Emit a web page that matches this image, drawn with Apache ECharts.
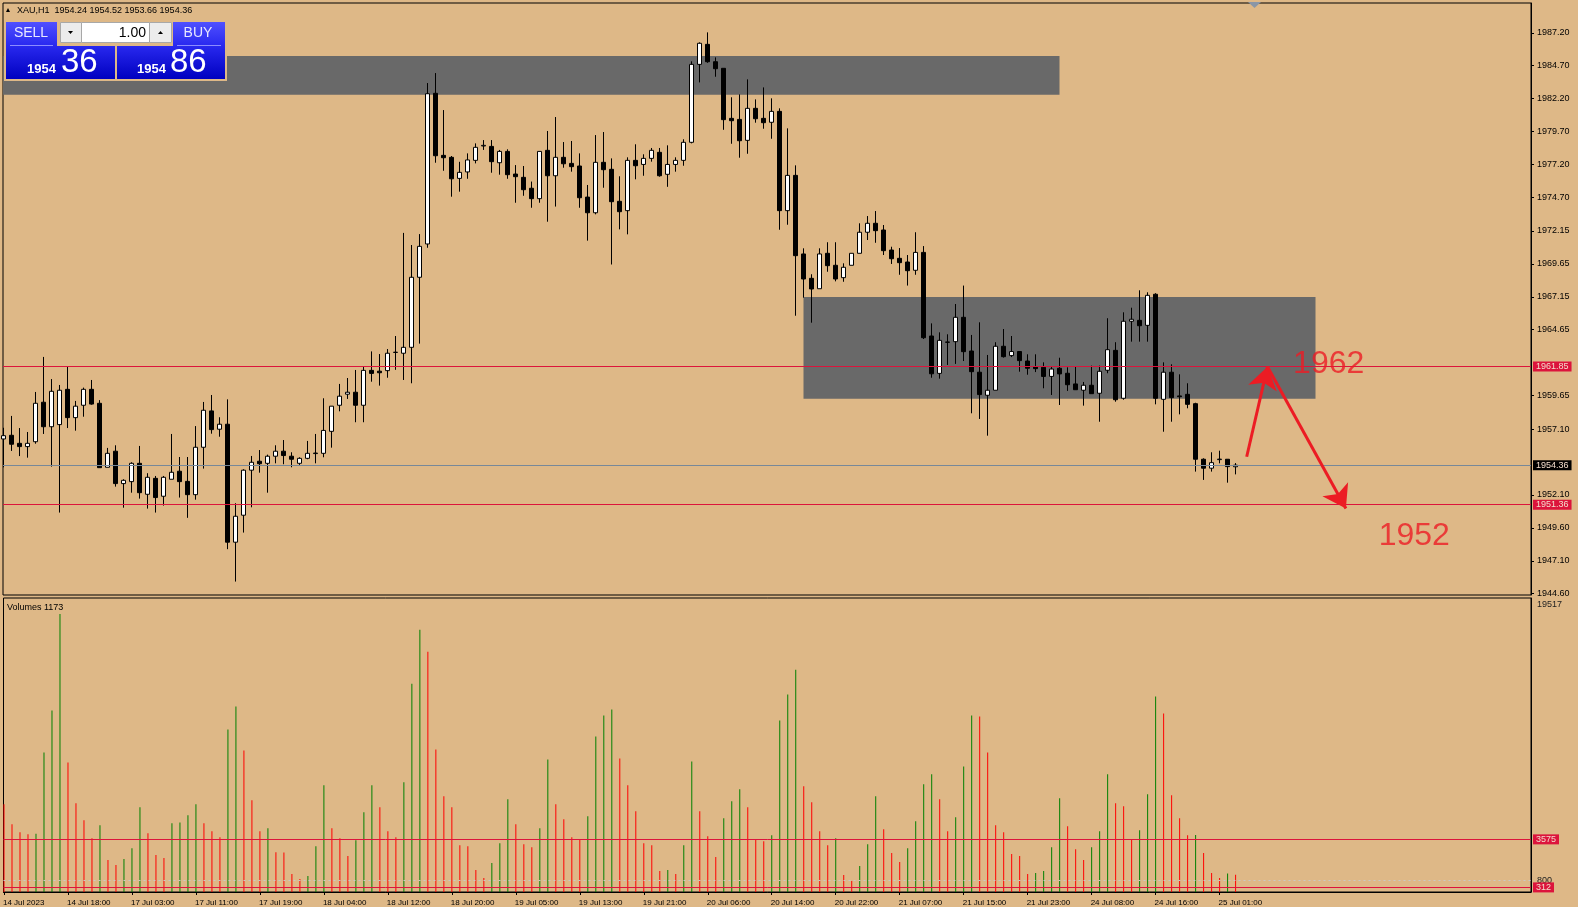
<!DOCTYPE html>
<html><head><meta charset="utf-8">
<script src="https://cdn.jsdelivr.net/npm/echarts@6/dist/echarts.min.js"></script>
<style>html,body{margin:0;padding:0;background:#DEB887;overflow:hidden}#c{width:1578px;height:907px}</style>
</head><body><div id="c"></div>
<script>
// ---------- DATA ----------
const symbolName = 'XAU,H1';
const opens = [1956.35,1956.63,1956.02,1955.77,1956.14,1959.14,1957.28,1957.44,1960.12,1957.97,
1958.91,1960.12,1959.06,1954.20,1955.42,1952.96,1953.11,1954.50,1952.15,1953.36,
1952.00,1953.29,1953.90,1953.13,1952.12,1955.72,1958.48,1957.09,1957.47,1948.51,
1950.56,1953.98,1954.66,1954.50,1955.04,1955.42,1955.04,1954.50,1954.88,1955.24,
1955.26,1956.93,1958.91,1959.75,1959.90,1958.91,1961.56,1961.50,1961.54,1962.92,
1962.86,1963.31,1968.63,1971.16,1982.60,1977.89,1977.74,1976.14,1976.63,1977.51,
1978.60,1978.57,1977.33,1978.19,1976.47,1976.22,1975.39,1974.60,1978.27,1976.34,
1977.74,1977.28,1977.08,1974.72,1973.53,1977.36,1976.83,1974.40,1973.69,1977.51,
1977.20,1977.66,1978.12,1976.45,1977.20,1977.51,1978.88,1984.80,1986.32,1985.00,
1984.50,1980.70,1980.62,1979.03,1981.46,1980.70,1980.40,1981.23,1973.69,1976.37,
1970.40,1968.55,1967.76,1970.45,1969.54,1968.60,1969.54,1970.45,1972.05,1972.73,
1972.22,1970.70,1970.07,1969.79,1969.16,1970.52,1964.17,1961.33,1963.68,1963.74,
1965.59,1963.03,1961.42,1959.67,1960.05,1963.39,1962.68,1962.99,1962.27,1961.84,
1961.79,1961.10,1961.72,1961.34,1960.53,1960.05,1960.43,1959.82,1961.57,1963.08,
1959.44,1965.29,1965.36,1964.98,1967.34,1959.36,1961.42,1959.62,1959.74,1959.03,
1954.81,1954.13,1954.78,1954.81,1954.24];
const highs = [1957.20,1958.10,1957.18,1956.88,1959.92,1962.58,1960.90,1960.45,1961.84,1959.24,
1960.25,1960.83,1959.30,1955.67,1955.87,1953.29,1954.58,1955.82,1953.75,1953.54,
1953.54,1956.73,1954.98,1954.98,1957.33,1959.16,1959.69,1958.00,1959.36,1951.47,
1954.05,1955.06,1955.51,1955.16,1955.87,1956.27,1955.34,1954.96,1956.20,1956.73,
1959.44,1958.84,1960.53,1960.98,1961.59,1961.84,1963.00,1962.80,1963.18,1964.17,
1972.00,1971.08,1971.91,1983.38,1984.14,1981.33,1977.84,1977.40,1978.04,1978.80,
1979.05,1979.05,1978.30,1978.35,1977.15,1977.08,1975.90,1978.19,1979.74,1980.80,
1978.90,1978.98,1978.04,1975.64,1979.43,1979.66,1977.66,1976.30,1977.74,1978.73,
1977.97,1978.45,1978.45,1978.65,1977.74,1979.11,1985.03,1986.47,1987.23,1985.33,
1984.50,1982.30,1982.52,1983.66,1982.14,1983.05,1982.22,1981.46,1979.94,1977.13,
1970.83,1968.86,1970.83,1971.29,1971.29,1969.69,1970.45,1972.73,1973.28,1973.66,
1972.60,1970.95,1970.85,1970.32,1972.05,1971.00,1965.13,1964.45,1964.30,1966.60,
1968.00,1964.25,1965.21,1962.73,1963.70,1964.70,1964.17,1962.99,1962.78,1962.78,
1962.17,1961.84,1962.52,1961.79,1961.84,1960.68,1961.92,1961.92,1965.52,1963.70,
1965.97,1966.32,1967.64,1967.49,1967.42,1962.17,1962.02,1961.26,1960.58,1959.10,
1954.88,1955.34,1955.46,1954.81,1954.52];
const lows = [1954.20,1955.44,1955.05,1954.93,1955.99,1956.73,1954.25,1950.76,1957.18,1956.98,
1958.04,1958.95,1954.17,1954.20,1952.73,1951.13,1952.27,1951.82,1951.06,1950.76,
1951.29,1953.29,1951.90,1950.36,1951.74,1954.10,1956.75,1956.52,1947.98,1945.52,
1949.24,1951.16,1953.79,1952.27,1954.50,1954.43,1954.20,1954.38,1954.81,1954.50,
1954.96,1955.69,1958.45,1959.39,1957.62,1957.62,1960.70,1960.40,1961.00,1961.60,
1960.83,1960.58,1963.59,1970.87,1977.33,1976.72,1974.75,1975.13,1976.11,1977.28,
1978.30,1976.57,1976.42,1976.11,1974.29,1974.82,1973.91,1974.29,1972.85,1974.00,
1976.95,1976.65,1973.91,1971.41,1973.41,1975.43,1969.60,1972.27,1971.89,1976.07,
1976.34,1977.41,1976.27,1975.50,1976.65,1977.10,1978.80,1983.43,1984.92,1983.86,
1979.83,1978.77,1977.71,1978.01,1980.37,1979.91,1979.15,1972.24,1972.62,1965.71,
1967.08,1965.18,1967.76,1969.05,1968.32,1968.29,1969.54,1970.45,1971.46,1971.25,
1970.32,1969.64,1968.82,1968.00,1968.82,1963.94,1961.00,1960.93,1961.97,1962.05,
1962.27,1958.30,1957.87,1956.60,1960.05,1962.53,1962.57,1961.46,1961.23,1961.43,
1960.20,1959.69,1958.93,1960.00,1960.09,1958.88,1959.79,1957.66,1961.34,1959.18,
1959.33,1963.74,1963.74,1963.74,1958.98,1956.90,1957.66,1958.22,1958.68,1953.87,
1953.24,1953.87,1954.50,1953.03,1953.66];
const closes = [1956.60,1955.95,1955.77,1956.02,1959.06,1957.28,1959.97,1960.05,1957.97,1958.84,
1960.12,1959.00,1954.17,1955.26,1952.96,1953.21,1954.50,1952.27,1953.44,1951.90,
1953.44,1953.82,1953.11,1952.12,1955.72,1958.53,1957.06,1957.47,1948.51,1950.48,
1953.98,1954.58,1954.47,1955.04,1955.42,1955.09,1954.81,1954.88,1955.26,1955.28,
1957.00,1958.84,1959.60,1959.90,1958.91,1961.56,1961.33,1961.38,1962.86,1962.94,
1963.31,1968.63,1970.98,1982.57,1977.86,1977.71,1976.11,1976.60,1977.54,1978.50,
1978.65,1977.41,1978.19,1976.42,1976.27,1975.28,1974.60,1978.19,1976.34,1977.74,
1977.25,1977.03,1974.67,1973.53,1977.36,1976.80,1974.37,1973.61,1977.51,1977.10,
1977.66,1978.27,1976.34,1977.20,1977.51,1978.88,1984.80,1986.40,1985.00,1984.47,
1980.60,1980.52,1979.00,1981.46,1980.67,1980.37,1981.23,1973.69,1976.37,1970.27,
1968.50,1967.74,1970.40,1969.51,1968.50,1969.39,1970.45,1972.05,1972.73,1972.17,
1970.65,1970.04,1969.74,1969.13,1970.52,1964.04,1961.30,1963.84,1963.72,1965.59,
1962.98,1961.46,1959.72,1960.05,1963.39,1962.60,1962.99,1962.30,1961.72,1961.69,
1961.10,1961.66,1961.29,1960.47,1960.09,1960.43,1959.79,1961.49,1963.13,1959.33,
1965.29,1965.44,1964.95,1967.26,1959.44,1961.42,1959.49,1959.56,1958.98,1954.81,
1954.13,1954.55,1954.82,1954.25,1954.36];
const volumes = [5958,4604,4063,3927,3950,9479,12323,18891,8802,6026,
4875,3656,4537,2167,1828,2234,2979,5755,3995,2505,
2302,4672,4720,5214,5958,4672,4130,3724,11037,12594,
9615,6229,4130,4333,2708,2690,1219,880,1083,3115,
7245,4333,3656,2438,3521,5417,7245,5755,4130,3724,
7448,14151,17808,16318,9683,6500,5755,3182,3115,1490,
948,1964,3318,6297,4604,3250,3047,4333,9005,5958,
4943,3724,3589,5146,10563,11985,12391,9073,7245,5485,
3318,3182,1422,1490,1219,3182,8870,5485,3792,2370,
5011,6162,6974,5755,3589,3453,3859,11646,13407,15099,
7177,6094,4130,3182,3656,1151,745,1760,3250,6500,
4266,2641,2031,2979,4807,7313,7990,6297,4130,5078,
8531,11985,11917,9479,4537,4063,2573,2438,1219,1286,
1422,3047,6365,4469,2912,2167,3047,4130,7990,6026,
5823,3589,4198,6636,13271,12120,6568,5011,3859,3870,
2641,1286,948,1260,1173];
// time-axis tick labels, one every 8 bars
const timeLabels = ['14 Jul 2023','14 Jul 18:00','17 Jul 03:00','17 Jul 11:00','17 Jul 19:00',
'18 Jul 04:00','18 Jul 12:00','18 Jul 20:00','19 Jul 05:00','19 Jul 13:00','19 Jul 21:00',
'20 Jul 06:00','20 Jul 14:00','20 Jul 22:00','21 Jul 07:00','21 Jul 15:00','21 Jul 23:00',
'24 Jul 08:00','24 Jul 16:00','25 Jul 01:00'];
const timeLabelBars = [0,8,16,24,32,40,48,56,64,72,80,88,96,104,112,120,128,136,144,152];
const priceTicks = [1987.20,1984.70,1982.20,1979.70,1977.20,1974.70,1972.15,1969.65,1967.15,1964.65,
1959.65,1957.10,1952.10,1949.60,1947.10,1944.60];
const volumeTicks = [19517, 800];
const priceLevels = [1961.85, 1951.36];
const askPrice = 1954.86;
const volumeLevels = [3575, 312];
const volumeGridLevel = 800;
// zones: [barFrom, priceTop, barTo, priceBottom]  (first starts before visible range)
const zones = [[-0.0625, 1985.43, 132, 1982.49], [100, 1967.13, 164, 1959.41]];
// drawn arrows: [barFrom, priceFrom, barTo, priceTo]
const arrows = [[155.4, 1955.0, 158.0, 1961.84], [158.0, 1961.84, 167.8, 1951.07]];
// text notes: [bar, price, text]
const notes = [[161.2, 1962.0, '1962'], [171.9, 1948.95, '1952']];

// ---------- CHART ----------
const X_MIN = -0.0625, X_MAX = X_MIN + 191;
const FONT = '"Liberation Sans", Arial, sans-serif';
const RED = '#DC143C', ANNOT = '#EC1C24', LABEL_TXT = '#f3dccb';
const last = closes.length - 1;
const bid = closes[last];

const candleData = opens.map((o, i) => [i, o, closes[i], lows[i], highs[i]]);
const volData = volumes.map((v, i) => [i, v]);

function tagLabel(bg, digits) {
  return {show: true, position: 'end', distance: 2, backgroundColor: bg, color: LABEL_TXT,
    fontSize: 9, fontFamily: FONT, padding: [1, 3, 0, 3], lineHeight: 9,
    formatter: p => Number(p.value).toFixed(digits)};
}

const blueGrad = {type: 'linear', x: 0, y: 0, x2: 0, y2: 1,
  colorStops: [{offset: 0, color: '#5050ff'}, {offset: 0.4, color: '#2a2af0'}, {offset: 1, color: '#0000c0'}]};

const bidInt = Math.floor(bid), bidFrac = Math.round((bid - bidInt) * 100);
const askInt = Math.floor(askPrice), askFrac = Math.round((askPrice - askInt) * 100);

const option = {
  animation: false,
  backgroundColor: '#DEB887',
  textStyle: {fontFamily: FONT},
  grid: [
    {left: 3, top: 3, width: 1528, height: 592, show: true, borderColor: '#000', borderWidth: 1, backgroundColor: 'transparent'},
    {left: 3, top: 598, width: 1528, height: 295, show: true, borderColor: '#000', borderWidth: 1, backgroundColor: 'transparent'}
  ],
  xAxis: [
    {gridIndex: 0, type: 'value', min: X_MIN, max: X_MAX, show: false, splitLine: {show: false}},
    {gridIndex: 1, type: 'value', min: X_MIN, max: X_MAX, splitLine: {show: false},
      axisLine: {show: true, onZero: false, lineStyle: {color: '#000', width: 1}},
      axisTick: {show: true, customValues: timeLabelBars, length: 3, lineStyle: {color: '#000'}},
      axisLabel: {customValues: timeLabelBars, color: '#000', fontSize: 8, fontFamily: FONT, align: 'left', margin: 7,
        padding: [0, 0, 0, -1],
        formatter: v => timeLabels[timeLabelBars.indexOf(Math.round(v))] || ''}}
  ],
  yAxis: [
    {gridIndex: 0, type: 'value', position: 'right', min: 1944.50, max: 1989.46, splitLine: {show: false},
      axisLine: {show: true, onZero: false, lineStyle: {color: '#000'}},
      axisTick: {show: true, customValues: priceTicks, length: 3, lineStyle: {color: '#000'}},
      axisLabel: {customValues: priceTicks, color: '#000', fontSize: 9, fontFamily: FONT, margin: 6,
        formatter: v => Number(v).toFixed(2)}},
    {gridIndex: 1, type: 'value', position: 'right', min: 0, max: 19970, splitLine: {show: false},
      axisLine: {show: true, onZero: false, lineStyle: {color: '#000'}},
      axisTick: {show: false},
      axisLabel: {customValues: volumeTicks, color: '#222', fontSize: 9, fontFamily: FONT, margin: 6,
        padding: [3, 0, 0, 0],
        formatter: v => String(Math.round(v))}}
  ],
  series: [
    {
      name: 'zones', type: 'line', xAxisIndex: 0, yAxisIndex: 0, data: [], z: 1, silent: true,
      markArea: {silent: true, z: 1, itemStyle: {color: '#696969', opacity: 1},
        data: zones.map(z => [{coord: [z[0], z[1]]}, {coord: [z[2], z[3]]}])}
    },
    {
      name: 'XAUUSD', type: 'candlestick', xAxisIndex: 0, yAxisIndex: 0, z: 3,
      layout: 'horizontal', barWidth: 4, data: candleData,
      itemStyle: {color: '#ffffff', color0: '#000000', borderColor: '#000000', borderColor0: '#000000',
        borderColorDoji: '#000000', borderWidth: 1},
      markLine: {silent: true, symbol: 'none', z: 5, animation: false,
        data: [
          {yAxis: priceLevels[0], lineStyle: {color: RED, width: 1, type: 'solid'}, label: tagLabel(RED, 2)},
          {yAxis: priceLevels[1], lineStyle: {color: RED, width: 1, type: 'solid'}, label: tagLabel(RED, 2)},
          {yAxis: bid, lineStyle: {color: '#778899', width: 1, type: 'solid'}, label: tagLabel('#000000', 2)}
        ]}
    },
    {
      name: 'notes', type: 'scatter', xAxisIndex: 0, yAxisIndex: 0, z: 6, symbolSize: 0, silent: true,
      data: notes.map(n => ({value: [n[0], n[1]], name: n[2]})),
      label: {show: true, position: 'right', distance: 0, color: ANNOT, fontSize: 32, fontFamily: FONT,
        formatter: p => p.name},
      markLine: {silent: true, z: 6, symbol: ['none', 'arrow'], symbolSize: 22,
        lineStyle: {color: ANNOT, width: 3, type: 'solid'}, label: {show: false},
        itemStyle: {color: ANNOT},
        data: arrows.map(a => [{coord: [a[0], a[1]]}, {coord: [a[2], a[3]]}])}
    },
    {
      name: 'Volumes', type: 'bar', xAxisIndex: 1, yAxisIndex: 1, barWidth: 1, z: 3, data: volData,
      itemStyle: {color: p => {const i = p.data[0]; return (i > 0 && volumes[i] > volumes[i - 1]) ? '#008000' : '#ff0000';}},
      markLine: {silent: true, symbol: 'none', z: 5,
        data: [
          {yAxis: volumeLevels[0], lineStyle: {color: RED, width: 1, type: 'solid'}, label: tagLabel(RED, 0)},
          {yAxis: volumeLevels[1], lineStyle: {color: RED, width: 1, type: 'solid'}, label: tagLabel(RED, 0)},
          {yAxis: volumeGridLevel, lineStyle: {color: '#c8c8c8', width: 1, type: [2, 3]}, label: {show: false}}
        ]}
    }
  ],
  graphic: [
    // header line
    {type: 'polygon', shape: {points: [[6, 12], [10, 12], [8, 8]]}, style: {fill: '#000'}, z: 10},
    {type: 'text', x: 17, y: 11, z: 10, style: {text: symbolName + '  ' + [opens[last], highs[last], lows[last], closes[last]].map(v => v.toFixed(2)).join(' '),
      font: '9px ' + FONT, fill: '#000', verticalAlign: 'middle'}},
    // chart shift marker
    {type: 'polygon', shape: {points: [[1248, 2], [1261, 2], [1254.5, 8]]}, style: {fill: '#8a96a6'}, z: 10},
    // one-click trading panel
    {type: 'rect', shape: {x: 4, y: 20, width: 223, height: 61}, style: {fill: '#DEB887'}, z: 10},
    {type: 'polygon', shape: {points: [[6, 22], [57, 22], [57, 46], [115, 46], [115, 79], [6, 79]]}, style: {fill: blueGrad}, z: 11},
    {type: 'polygon', shape: {points: [[173, 22], [225, 22], [225, 79], [117, 79], [117, 46], [173, 46]]}, style: {fill: blueGrad}, z: 11},
    {type: 'line', shape: {x1: 10, y1: 45.5, x2: 53, y2: 45.5}, style: {stroke: '#8c8cff', lineWidth: 1}, z: 12},
    {type: 'line', shape: {x1: 177, y1: 45.5, x2: 221, y2: 45.5}, style: {stroke: '#8c8cff', lineWidth: 1}, z: 12},
    {type: 'rect', shape: {x: 60.5, y: 22.5, width: 21, height: 20}, style: {fill: '#ececec', stroke: '#a8a8a8', lineWidth: 1}, z: 11},
    {type: 'rect', shape: {x: 81.5, y: 22.5, width: 68, height: 20}, style: {fill: '#ffffff', stroke: '#a8a8a8', lineWidth: 1}, z: 11},
    {type: 'rect', shape: {x: 149.5, y: 22.5, width: 22, height: 20}, style: {fill: '#ececec', stroke: '#a8a8a8', lineWidth: 1}, z: 11},
    {type: 'polygon', shape: {points: [[68, 31], [73, 31], [70.5, 34]]}, style: {fill: '#000'}, z: 12},
    {type: 'polygon', shape: {points: [[158, 34], [163, 34], [160.5, 31]]}, style: {fill: '#000'}, z: 12},
    {type: 'text', x: 146, y: 33, z: 12, style: {text: '1.00', font: '14px ' + FONT, fill: '#000', align: 'right', verticalAlign: 'middle'}},
    {type: 'text', x: 31, y: 33.5, z: 12, style: {text: 'SELL', font: '14px ' + FONT, fill: '#e8e8ff', align: 'center', verticalAlign: 'middle'}},
    {type: 'text', x: 198, y: 33.5, z: 12, style: {text: 'BUY', font: '14px ' + FONT, fill: '#e8e8ff', align: 'center', verticalAlign: 'middle'}},
    {type: 'text', x: 27, y: 69.5, z: 12, style: {text: String(bidInt), font: 'bold 13px ' + FONT, fill: '#ffffff', verticalAlign: 'middle'}},
    {type: 'text', x: 61, y: 63, z: 12, style: {text: String(bidFrac).padStart(2, '0'), font: '33px ' + FONT, fill: '#ffffff', verticalAlign: 'middle'}},
    {type: 'text', x: 137, y: 69.5, z: 12, style: {text: String(askInt), font: 'bold 13px ' + FONT, fill: '#ffffff', verticalAlign: 'middle'}},
    {type: 'text', x: 170, y: 63, z: 12, style: {text: String(askFrac).padStart(2, '0'), font: '33px ' + FONT, fill: '#ffffff', verticalAlign: 'middle'}},
    // volume pane title
    {type: 'text', x: 7, y: 608, z: 10, style: {text: 'Volumes ' + volumes[last], font: '9px ' + FONT, fill: '#000', verticalAlign: 'middle'}}
  ]
};

const chart = echarts.init(document.getElementById('c'), null, {renderer: 'canvas', width: 1578, height: 907});
chart.setOption(option);
</script>
</body></html>
